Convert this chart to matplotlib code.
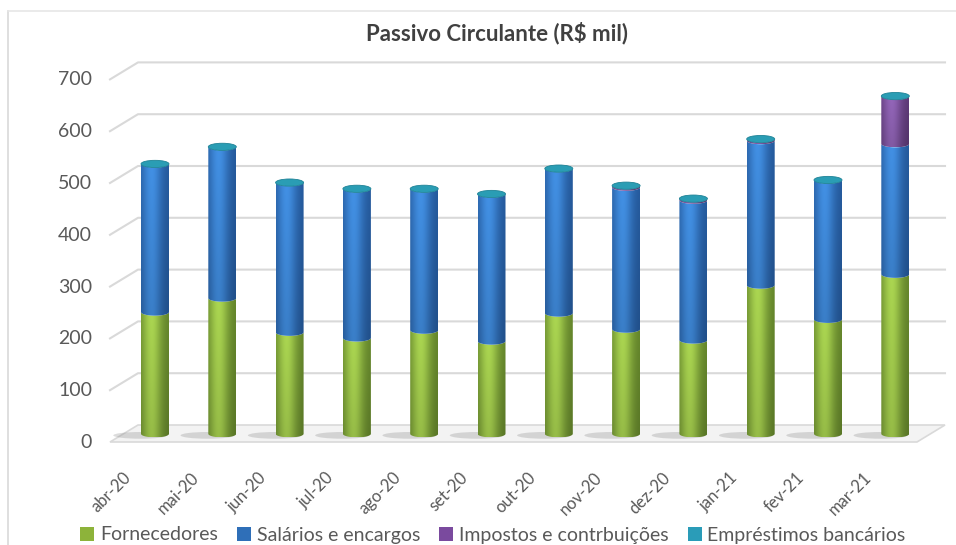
import numpy as np
import matplotlib; matplotlib.use("Agg")
import matplotlib.pyplot as plt
from matplotlib.patches import Ellipse, Polygon, Patch
from matplotlib.lines import Line2D
from matplotlib.transforms import offset_copy
from matplotlib.colors import to_rgb

plt.rcParams['font.family'] = ['Lato', 'DejaVu Sans']

# values (R$ mil)
meses = ["abr-20", "mai-20", "jun-20", "jul-20", "ago-20", "set-20",
         "out-20", "nov-20", "dez-20", "jan-21", "fev-21", "mar-21"]
fornecedores = [235, 262, 196, 185, 200, 179, 233, 202, 181, 287, 221, 308]
salarios = [286, 292, 289, 288, 273, 284, 279, 274, 270, 279, 269, 252]
impostos = [0, 0, 0, 0, 0, 0, 0, 3, 3, 3, 0, 92]
emprestimos = [0, 0, 0, 0, 0, 0, 0, 0, 0, 0, 0, 0]
nomes = ["Fornecedores", "Salários e encargos", "Impostos e contrbuições", "Empréstimos bancários"]
yticks = [0, 100, 200, 300, 400, 500, 600, 700]

# (light, dark) shading per series
cores = [("#abd651", "#62832a"), ("#4290e4", "#24589a"),
         ("#9466ba", "#5c3875"), ("#2ea6bb", "#1a7686")]
leg_cores = ["#8db33a", "#2f6fb8", "#7a4a9e", "#2a9cb8"]

W, H = 956, 545
fig = plt.figure(figsize=(W / 100, H / 100), dpi=100)
L, R, B, T = 100, 950, 455, 55          # plot box in pixels
PX, PY = 67.3, 0.518                    # px per category, px per unit
ax = fig.add_axes([L / W, 1 - B / H, (R - L) / W, (B - T) / H])
x0 = -(155 - L) / PX
y0 = -(B - 425) / PY

SKX, SKY = 28 / PX, 17 / PY             # perspective skew of the side wall / floor
BW = 28 / PX                            # cylinder width
RY = 3.6 / PY                           # ellipse half-height
DEPTH = 17                              # bars sit mid-depth, slightly lower than back wall
xbl, xr = (138 - 155) / PX, (945 - 155) / PX

# floor
ax.add_patch(Polygon([(xbl, 0), (xr, 0), (xr - SKX, -SKY), (xbl - SKX, -SKY)],
                     closed=True, facecolor="#f3f3f3", edgecolor="#d9d9d9", lw=1.2, zorder=1))
# gridlines on back wall + side wall
for v in yticks[1:]:
    ax.plot([xbl - SKX, xbl, xr], [v - SKY, v, v], color="#d9d9d9", lw=1.5, zorder=1)
for v in yticks:
    ax.text(xbl - SKX - 18 / PX, v - SKY - 1, str(v), ha="right", va="center",
            fontsize=14, color="#595959", clip_on=False)


def shade(light, dark, n=40, m=20):
    u = np.linspace(0, 1, n)
    s = np.exp(-((u - 0.38) / 0.36) ** 2)
    lc, dc = np.array(to_rgb(light)), np.array(to_rgb(dark))
    row = dc + (lc - dc) * s[:, None]
    vert = np.linspace(0.88, 1.0, m)[:, None, None]
    return np.clip(row[None, :, :] * vert, 0, 1)


def cylinder(xc, b, t, light, dark):
    th = np.linspace(np.pi, 2 * np.pi, 40)
    xs = xc + BW / 2 * np.cos(th)
    lower_b = np.column_stack([xs, b + RY * np.sin(th)])
    lower_t = np.column_stack([xs[::-1], t + RY * np.sin(th[::-1])])
    clip = Polygon(np.vstack([lower_b, lower_t]), closed=True, transform=ax.transData)
    im = ax.imshow(shade(light, dark), extent=[xc - BW / 2, xc + BW / 2, b - RY, t],
                   origin="lower", aspect="auto", interpolation="bilinear", zorder=3)
    im.set_clip_path(clip)


series = [fornecedores, salarios, impostos, emprestimos]
for i in range(len(meses)):
    ax.add_patch(Ellipse((i - 0.22, -DEPTH - 3), 0.8, 13, color="#8c8c8c", alpha=0.3,
                         lw=0, zorder=2))
    base = -DEPTH
    for vals, (lc, dc) in zip(series, cores):
        if vals[i] > 0:
            cylinder(i, base, base + vals[i], lc, dc)
            base += vals[i]
    ax.add_patch(Ellipse((i, base), BW, 2 * RY, facecolor="#2a9db4", edgecolor="#1e8296",
                         lw=0.6, zorder=4))

lab_tr = offset_copy(ax.transData, fig=fig, x=-26, y=-20, units="dots")
for i, m in enumerate(meses):
    ax.text(i, y0, m, rotation=45, rotation_mode="anchor", ha="right", va="center",
            fontsize=12, color="#595959", transform=lab_tr, clip_on=False)

ax.set_xlim(x0, x0 + (R - L) / PX)
ax.set_ylim(y0, y0 + (B - T) / PY)
ax.axis("off")

fig.text(497 / W, 1 - 33 / H, "Passivo Circulante (R\\$ mil)", ha="center", va="center",
         fontsize=16, fontweight="bold", color="#404040")
handles = [Patch(facecolor=c, edgecolor="none") for c in leg_cores]
fig.legend(handles, nomes, loc="center", bbox_to_anchor=(493 / W, 1 - 535 / H), ncol=4,
           frameon=False, fontsize=14, handlelength=0.7, handleheight=0.7,
           handletextpad=0.3, columnspacing=1.0, labelcolor="#595959")

# chart border (left/top visible in the crop)
fig.add_artist(Line2D([8 / W, 8 / W], [0, 1 - 11 / H], color="#d9d9d9", lw=1.2,
                      transform=fig.transFigure))
fig.add_artist(Line2D([8 / W, 1], [1 - 11 / H, 1 - 11 / H], color="#e6e6e6", lw=1.2,
                      transform=fig.transFigure))

fig.savefig("out.png", dpi=100)
